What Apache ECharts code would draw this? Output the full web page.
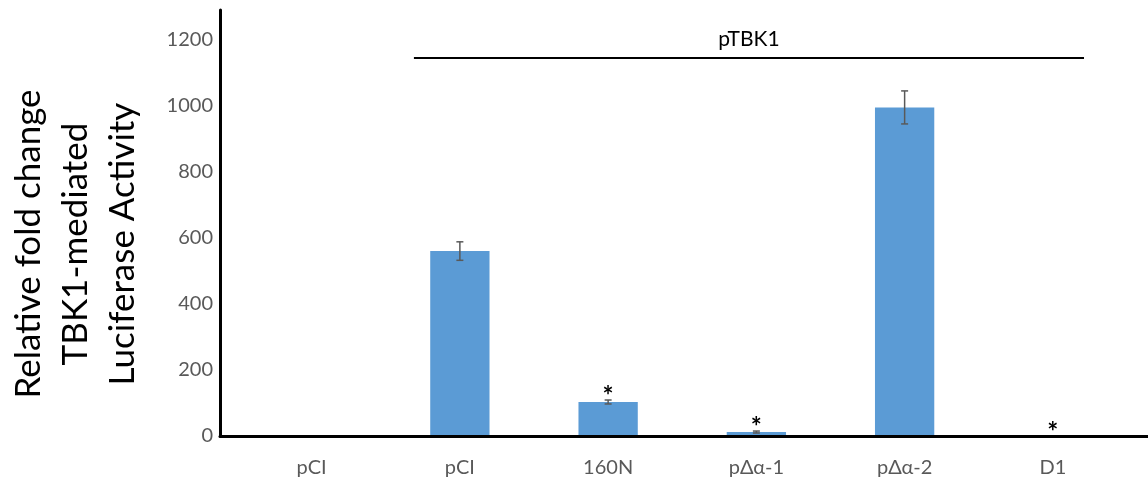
<!DOCTYPE html>
<html>
<head>
<meta charset="utf-8">
<script src="https://cdn.jsdelivr.net/npm/echarts@6/dist/echarts.min.js"></script>
<style>
html,body{margin:0;padding:0;background:#fff;}
#chart{width:1148px;height:485px;}
</style>
</head>
<body>
<div id="chart"></div>
<script>
// ---- data ----
var categories = ['pCI', 'pCI', '160N', 'p\u0394\u03b1-1', 'p\u0394\u03b1-2', 'D1'];
var values = [0, 560, 103, 12, 995, 1];
var errors = [0, 28, 6, 3, 50, 0];
var significance = ['', '', '*', '*', '', '*'];
var yTicks = [0, 200, 400, 600, 800, 1000, 1200];
var yMax = 1290;
var bracketLabel = 'pTBK1';
var bracketLevel = 1145;
var bracketFrom = 1;
var bracketTo = 5;
var yTitle = ['Relative fold change', 'TBK1-mediated', 'Luciferase Activity'];

var FONT = 'Lato, "Open Sans", sans-serif';
var chart = echarts.init(document.getElementById('chart'));

var errData = values.map(function (v, i) { return [i, v, errors[i]]; });

var option = {
  animation: false,
  backgroundColor: '#ffffff',
  grid: [
    {left: 220, right: 0, top: 10, bottom: 49},
    {left: 237.5, right: 21, top: 10, bottom: 49}
  ],
  xAxis: [
    {gridIndex: 0, type: 'value', min: 0, max: 1, z: 10,
     axisLine: {show: true, lineStyle: {color: '#000', width: 3}},
     axisTick: {show: false}, axisLabel: {show: false}, splitLine: {show: false}},
    {gridIndex: 1, type: 'category', data: categories,
     axisLine: {show: false}, axisTick: {show: false}, splitLine: {show: false},
     axisLabel: {color: '#595959', fontSize: 20, fontFamily: FONT, margin: 22}}
  ],
  yAxis: [
    {gridIndex: 0, type: 'value', min: 0, max: yMax, interval: 200, z: 10,
     axisLine: {show: true, lineStyle: {color: '#000', width: 3}},
     axisTick: {show: false}, splitLine: {show: false},
     axisLabel: {color: '#595959', fontSize: 20, fontFamily: FONT, margin: 7,
       showMaxLabel: false,
       formatter: function (v) { return yTicks.indexOf(v) >= 0 ? String(v) : ''; }}},
    {gridIndex: 1, type: 'value', min: 0, max: yMax, show: false}
  ],
  series: [
    {type: 'bar', xAxisIndex: 1, yAxisIndex: 1, data: values, barWidth: '40%',
     itemStyle: {color: '#5B9BD5'}},
    {type: 'custom', xAxisIndex: 1, yAxisIndex: 1, data: errData, z: 5,
     renderItem: function (params, api) {
       var i = api.value(0), v = api.value(1), e = api.value(2);
       var sig = significance[params.dataIndex];
       var top = api.coord([i, v + e]);
       var bot = api.coord([i, v - e]);
       var children = [];
       if (e > 0) {
         var st = {stroke: '#595959', lineWidth: 1.5};
         children.push({type: 'line', shape: {x1: top[0], y1: top[1], x2: bot[0], y2: bot[1]}, style: st});
         children.push({type: 'line', shape: {x1: top[0] - 3.5, y1: top[1], x2: top[0] + 3.5, y2: top[1]}, style: st});
         children.push({type: 'line', shape: {x1: bot[0] - 3.5, y1: bot[1], x2: bot[0] + 3.5, y2: bot[1]}, style: st});
       }
       if (sig) {
         children.push({type: 'text', style: {text: sig, x: top[0], y: top[1] + 10,
           textAlign: 'center', textVerticalAlign: 'bottom', fill: '#000',
           font: 'bold 26px ' + FONT}});
       }
       return {type: 'group', children: children};
     }},
    {type: 'custom', xAxisIndex: 1, yAxisIndex: 1, data: [[bracketFrom, bracketTo, bracketLevel]],
     renderItem: function (params, api) {
       var a = api.coord([api.value(0), api.value(2)]);
       var b = api.coord([api.value(1), api.value(2)]);
       var band = api.size([1, 0])[0];
       var x1 = a[0] - 0.31 * band, x2 = b[0] + 0.21 * band;
       return {type: 'group', children: [
         {type: 'line', shape: {x1: x1, y1: a[1], x2: x2, y2: a[1]}, style: {stroke: '#000', lineWidth: 2}},
         {type: 'text', style: {text: bracketLabel, x: (x1 + x2) / 2, y: a[1] - 8,
           textAlign: 'center', textVerticalAlign: 'bottom', fill: '#000', font: '21px ' + FONT}}
       ]};
     }}
  ],
  graphic: [
    {type: 'text', x: 76, y: 244, rotation: Math.PI / 2,
     style: {text: yTitle.join('\n'), textAlign: 'center', textVerticalAlign: 'middle',
       fill: '#000', font: '35px ' + FONT, lineHeight: 47}}
  ]
};
chart.setOption(option);
</script>
</body>
</html>
